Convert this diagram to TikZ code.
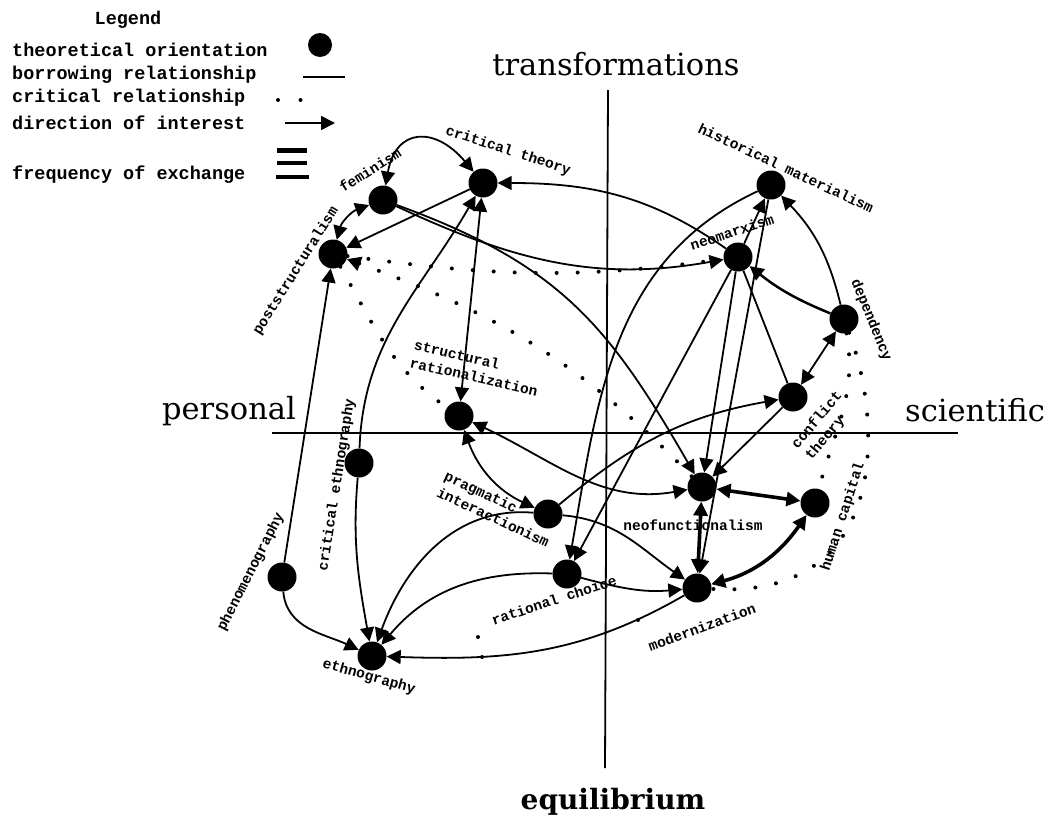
\documentclass[tikz,border=0pt]{standalone}
\usepackage{fontspec}
\newfontfamily\monofam{Liberation Mono}
\newfontfamily\serfam{DejaVu Serif}
\usetikzlibrary{arrows.meta}
\begin{document}
\begin{tikzpicture}[x=1pt,y=1pt,
  theo/.style={circle,fill=black,minimum size=29pt,inner sep=0pt},
  rel/.style={line width=1.8pt},
  heavy/.style={line width=3.6pt},
  crit/.style={line width=4pt,line cap=round,dash pattern=on 0pt off 21pt},
  lab/.style={font=\monofam\bfseries\fontsize{14.5}{18}\selectfont,inner sep=0pt,align=left},
  leg/.style={font=\monofam\bfseries\fontsize{18.5}{20}\selectfont,inner sep=0pt,anchor=west},
  axl/.style={font=\serfam\fontsize{30.5}{32}\selectfont,inner sep=0pt},
  >={Triangle[length=14pt,width=14pt]}]
\useasboundingbox (0,0) rectangle (1051,-819);

% axes
\coordinate (axL) at (272,-433);
\coordinate (axR) at (958,-433);
\coordinate (axT) at (608,-90);
\coordinate (axB) at (605,-768);
\draw[line width=2.5pt] (axL) -- (axR);
\draw[line width=1.8pt] (axT) -- (axB);
\node[axl] (ltr) at (616,-64) {transformations};
\node[axl,font=\serfam\bfseries\fontsize{28}{30}\selectfont] (leq) at (613,-802) {equilibrium};
\node[axl] (lpe) at (229,-411) {personal};
\node[axl] (lsc) at (975,-410) {scientific};

% legend
\node[leg,anchor=center] (legt) at (128,-20) {Legend};
\node[leg] (leg1) at (12,-50) {theoretical orientation};
\node[leg] (leg2) at (12,-75) {borrowing relationship};
\node[leg] (leg3) at (12,-98) {critical relationship};
\node[leg] (leg4) at (12,-123) {direction of interest};
\node[leg] (leg5) at (12,-175) {frequency of exchange};
\node[theo,minimum size=24pt] (legc) at (320,-45) {};
\coordinate (b1) at (303,-77); \coordinate (b2) at (345,-77);
\draw[rel] (b1) -- (b2);
\coordinate (c1) at (278,-100); \coordinate (c2) at (323,-100);
\draw[crit,dash pattern=on 0pt off 22.5pt] (c1) -- (c2);
\coordinate (d1) at (285,-123); \coordinate (d2) at (335,-123);
\draw[rel,->] (d1) -- (d2);
\coordinate (f1) at (277,-150); \coordinate (f2) at (307,-150);
\coordinate (f3) at (277,-163); \coordinate (f4) at (307,-163);
\coordinate (f5) at (276,-177); \coordinate (f6) at (309,-177);
\draw[line width=5pt] (f1) -- (f2);
\draw[line width=4pt] (f3) -- (f4);
\draw[line width=4pt] (f5) -- (f6);

% theoretical orientations
\node[theo] (fem) at (383,-200) {};
\node[theo] (ct) at (483,-183) {};
\node[theo] (ps) at (333,-254) {};
\node[theo] (hm) at (771,-185) {};
\node[theo] (nm) at (738,-257) {};
\node[theo] (dep) at (844,-319) {};
\node[theo] (con) at (793,-397) {};
\node[theo] (sr) at (459,-416) {};
\node[theo] (ce) at (359,-463) {};
\node[theo] (pi) at (548,-514) {};
\node[theo] (nf) at (702,-487) {};
\node[theo] (hc) at (815,-503) {};
\node[theo] (rc) at (567,-574) {};
\node[theo] (mod) at (697,-588) {};
\node[theo] (ph) at (282,-577) {};
\node[theo] (eth) at (372,-656) {};

% labels
\node[lab,rotate=32] (lfem) at (370,-170) {feminism};
\node[lab,rotate=-18] (lct) at (508,-151) {critical theory};
\node[lab,rotate=58] (lps) at (296,-271) {poststructuralism};
\node[lab,rotate=-25] (lhm) at (786,-168) {historical materialism};
\node[lab,rotate=18] (lnm) at (732,-232) {neomarxism};
\node[lab,rotate=-68] (ldep) at (871,-320) {dependency};
\node[lab,rotate=50] (lcon) at (824,-426) {conflict\\theory};
\node[lab,rotate=72] (lhc) at (843,-517) {human capital};
\node[lab,rotate=-13] (lsr) at (476,-368) {structural\\rationalization};
\node[lab,rotate=81] (lce) at (337,-485) {critical ethnography};
\node[lab,rotate=-25] (lpi) at (497,-509) {pragmatic\\interactionism};
\node[lab] (lnf) at (693,-525) {neofunctionalism};
\node[lab,rotate=18] (lrc) at (554,-600) {rational choice};
\node[lab,rotate=20] (lmod) at (702,-627) {modernization};
\node[lab,rotate=63] (lph) at (251,-572) {phenomenography};
\node[lab,rotate=-16] (leth) at (369,-677) {ethnography};

% borrowing relationships
\draw[rel,<->] (ps) to[out=75,in=200] (fem);
\draw[rel,<->] (fem) to[out=80,in=130,looseness=1.7] (ct);
\draw[rel,->] (ct) -- (ps);
\draw[rel,->] (nm) to[out=145,in=0] (ct);
\draw[rel,->] (fem) to[out=-25,in=190] (nm);
\draw[rel,->] (fem) to[out=-20,in=120,looseness=1.1] (nf);
\draw[rel,<->] (sr) -- (ct);
\draw[rel,->] (ce) to[out=88,in=240] (ct);
\draw[rel,->] (nm) -- (hm);
\draw[rel,->] (hm) -- (mod);
\draw[rel,->] (nm) -- (nf);
\draw[rel] (nm) -- (con);
\draw[rel,->] (hm) to[out=205,in=80] (rc);
\draw[rel,->] (nm) -- (rc);
\draw[rel,->] (dep) to[bend right=15] (hm);
\draw[line width=2.5pt,->] (dep) to[bend left=8] (nm);
\draw[rel,<->] (dep) -- (con);
\draw[rel,->] (pi) to[out=40,in=190] (con);
\draw[rel,->] (con) -- (nf);
\draw[rel,<->] (sr) to[out=-25,in=190] (nf);
\draw[rel,<->] (sr) to[out=-70,in=155] (pi);
\draw[heavy,<->] (nf) -- (mod);
\draw[heavy,<->] (nf) -- (hc);
\draw[heavy,<->] (mod) to[out=15,in=235] (hc);
\draw[rel,->] (pi) to[out=-5,in=145] (mod);
\draw[rel,->] (rc) to[out=-15,in=185] (mod);
\draw[rel,->] (mod) to[out=210,in=-2] (eth);
\draw[rel,->] (ph) to[out=-85,in=155] (eth);
\draw[rel,->] (ce) to[out=-95,in=100] (eth);
\draw[rel,->] (pi) to[out=175,in=70] (eth);
\draw[rel,->] (rc) to[out=178,in=50] (eth);
\draw[rel,->] (ph) -- (ps);

% critical relationships
\draw[crit] (ps) to[out=-8,in=188] (nm);
\draw[crit,<-] (ps) to[out=-20,in=134] (nf);
\draw[crit] (ps) to[out=-60,in=145] (sr);
\draw[crit] (dep) to[out=-80,in=75] (hc);
\draw[crit] (dep) .. controls (882,-420) and (892,-600) .. (mod);
\fill (478,-637) circle (2pt);
\fill (482,-657) circle (2pt);
\fill (638,-620) circle (2pt);
\end{tikzpicture}
\end{document}
